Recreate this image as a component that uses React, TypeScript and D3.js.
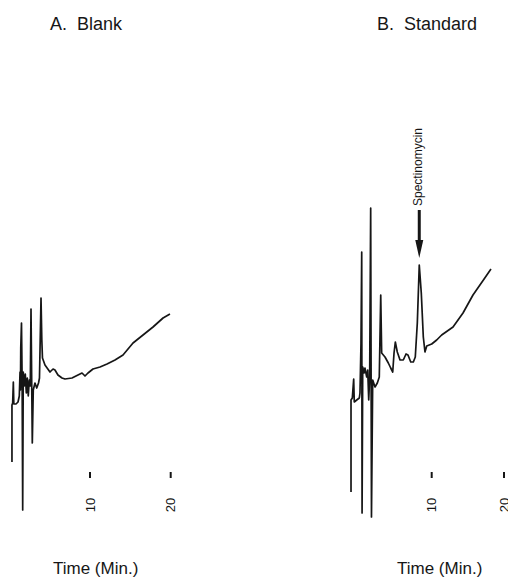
import * as d3 from "d3";

// chromatogram A (blank): retention time (min) and detector response
const blankTime = [
  0.33, 0.33, 0.42, 0.5, 0.56, 0.83, 1.08, 1.24, 1.33, 1.38, 1.42, 1.51, 1.59,
  1.66, 1.73, 1.86, 1.98, 2.11, 2.23, 2.35, 2.48, 2.6, 2.69, 2.85, 2.97, 3.18,
  3.4, 3.62, 3.74, 3.93, 4.03, 4.11, 4.42, 5.04, 5.42, 5.66, 6.03, 6.53, 6.9,
  7.77, 8.51, 9.01, 9.38, 9.75, 10.37, 11.24, 12.11, 13.1, 14.09, 15.33, 16.57,
  17.81, 19.05, 19.91,
];
const blankResp = [
  3.8, 9.5, 9.7, 11.8, 9.6, 9.6, 9.8, 10.4, 12.8, 11.0, 15.2, 17.7, 12.0, -1.0,
  12.8, 11.4, 12.6, 10.7, 12.2, 10.4, 12.0, 11.4, 19.1, 5.7, 11.0, 11.7, 11.2,
  11.7, 12.2, 20.2, 16.0, 14.2, 13.5, 12.8, 13.1, 13.0, 12.5, 12.2, 12.1, 12.2,
  12.5, 12.7, 12.4, 12.7, 13.1, 13.3, 13.6, 14.0, 14.5, 15.7, 16.5, 17.3, 18.2,
  18.6,
];

// chromatogram B (standard)
const stdTime = [
  -1.16, -1.16, -0.98, -0.79, -0.71, -0.37, -0.01, 0.08, 0.22, 0.32, 0.37, 0.46,
  0.64, 0.77, 1.01, 1.15, 1.29, 1.42, 1.56, 1.67, 1.84, 2.16, 2.48, 2.75, 2.95,
  3.08, 3.54, 4.0, 4.33, 4.61, 4.79, 4.97, 5.24, 5.62, 6.07, 6.45, 6.72, 7.1,
  7.46, 7.73, 8.01, 8.28, 8.56, 8.84, 9.07, 9.31, 10.0, 10.69, 11.38, 12.95,
  14.33, 15.71, 16.96, 18.2,
];
const stdResp = [
  0.8, 10.0, 10.2, 12.1, 9.8, 10.0, 10.2, 10.7, 15.7, 24.8, -1.3, 13.3, 12.7,
  13.2, 12.3, 13.0, 10.0, 12.3, 29.2, -1.7, 12.0, 11.3, 11.7, 12.3, 20.5, 14.7,
  14.3, 13.7, 13.2, 12.8, 14.7, 15.8, 14.8, 14.0, 14.0, 14.6, 14.5, 13.8, 13.8,
  14.3, 17.7, 23.5, 20.7, 16.3, 14.8, 15.4, 15.6, 16.0, 16.5, 17.3, 18.7, 20.5,
  21.8, 23.1,
];

const tickMinutes = [10, 20];
const peakName = "Spectinomycin";
const peakTime = 8.28;

const W = 508;
const H = 580;
const FONT = "'Liberation Sans', Arial, Helvetica, sans-serif";
const INK = "#161616";

const y = d3.scaleLinear().domain([0, 30]).range([500, 200]);

type PanelProps = {
  title: string;
  times: number[];
  resp: number[];
  x: d3.ScaleLinear<number, number>;
  titleX: number;
  labelX: number;
  peak?: { name: string; time: number };
};

const Panel = ({ title, times, resp, x, titleX, labelX, peak }: PanelProps) => {
  const pts: [number, number][] = times.map((t, i) => [t, resp[i]]);
  const line = d3
    .line<[number, number]>()
    .x((d) => x(d[0]))
    .y((d) => y(d[1]));

  return (
    <g>
      <text
        x={titleX}
        y={30}
        fontSize={18}
        fontFamily={FONT}
        fill={INK}
        style={{ whiteSpace: "pre" }}
      >
        {title}
      </text>
      <path
        d={line(pts) ?? ""}
        fill="none"
        stroke={INK}
        strokeWidth={1.7}
        strokeLinejoin="round"
      />
      {tickMinutes.map((m) => (
        <g key={m}>
          <line
            x1={x(m)}
            x2={x(m)}
            y1={472}
            y2={478}
            stroke={INK}
            strokeWidth={2}
          />
          <text
            transform={`translate(${x(m)},505) rotate(-90)`}
            textAnchor="middle"
            dominantBaseline="central"
            fontSize={13}
            fontFamily={FONT}
            fill={INK}
          >
            {m}
          </text>
        </g>
      ))}
      {peak && (
        <g>
          <text
            transform={`translate(${x(peak.time) - 1},206) rotate(-90)`}
            textAnchor="start"
            dominantBaseline="central"
            fontSize={12}
            fontFamily={FONT}
            fill={INK}
          >
            {peak.name}
          </text>
          <line
            x1={x(peak.time)}
            x2={x(peak.time)}
            y1={210}
            y2={244}
            stroke={INK}
            strokeWidth={3}
          />
          <path
            d={`M${x(peak.time) - 4},240L${x(peak.time) + 4},240L${x(peak.time)},258Z`}
            fill={INK}
          />
        </g>
      )}
      <text x={labelX} y={574} fontSize={17} fontFamily={FONT} fill={INK}>
        Time (Min.)
      </text>
    </g>
  );
};

export default function App() {
  const xA = d3.scaleLinear().domain([0, 20]).range([9.3, 170.7]);
  const xB = d3.scaleLinear().domain([0, 20]).range([359.4, 504]);
  return (
    <svg
      width={W}
      height={H}
      style={{ position: "absolute", left: 0, top: 0, background: "#fff" }}
    >
      <rect width={W} height={H} fill="#fff" />
      <Panel
        title={"A.  Blank"}
        times={blankTime}
        resp={blankResp}
        x={xA}
        titleX={50}
        labelX={53}
      />
      <Panel
        title={"B.  Standard"}
        times={stdTime}
        resp={stdResp}
        x={xB}
        titleX={377}
        labelX={397}
        peak={{ name: peakName, time: peakTime }}
      />
    </svg>
  );
}
